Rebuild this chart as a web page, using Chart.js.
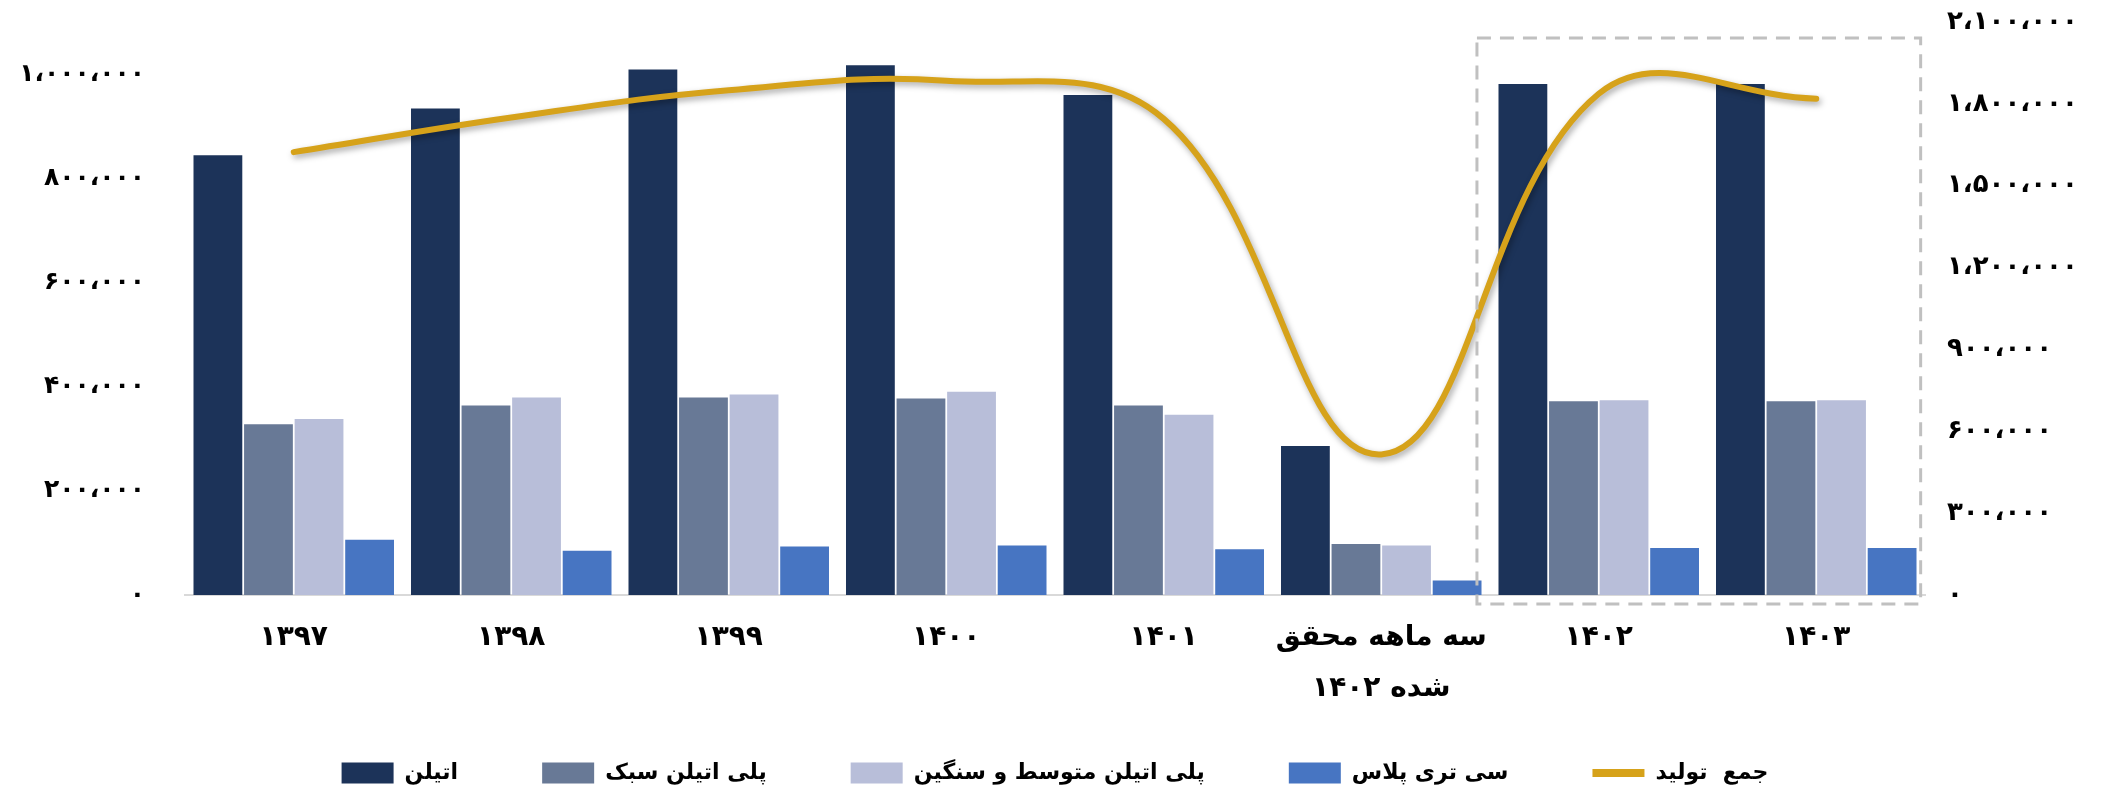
<!DOCTYPE html>
<html lang="fa">
<head>
<meta charset="utf-8">
<script src="https://cdn.jsdelivr.net/npm/chart.js@4.4.1/dist/chart.umd.min.js"></script>
<style>
  html, body { margin: 0; padding: 0; background: #fff; }
  #wrap { width: 2110px; height: 788px; }
</style>
</head>
<body>
<div id="wrap"><canvas id="productionChart" width="2110" height="788"></canvas></div>
<script>
// داده ها
const categories = ['۱۳۹۷', '۱۳۹۸', '۱۳۹۹', '۱۴۰۰', '۱۴۰۱', ['سه ماهه محقق', 'شده ۱۴۰۲'], '۱۴۰۲', '۱۴۰۳'];
const ethylene = [844000, 934000, 1009000, 1017000, 960000, 286000, 981000, 981000];
const lightPE = [328000, 364000, 379000, 377000, 364000, 98000, 372000, 372000];
const medHeavyPE = [338000, 379000, 385000, 390000, 346000, 95000, 374000, 374000];
const c3plus = [106000, 85000, 93000, 95000, 88000, 28000, 90000, 90000];
const totalProduction = [1623000, 1750000, 1850000, 1885000, 1745000, 515000, 1837000, 1819000];
const leftTicks = [0, 200000, 400000, 600000, 800000, 1000000];
const rightTicks = [0, 300000, 600000, 900000, 1200000, 1500000, 1800000, 2100000];
const highlighted = ['۱۴۰۲', '۱۴۰۳'];

const faDigits = '۰۱۲۳۴۵۶۷۸۹';
function toFa(n) {
  return Number(n).toLocaleString('en-US').replace(/,/g, '،').replace(/\d/g, d => faDigits[d]);
}

const fontFamily = "'DejaVu Sans', sans-serif";

// سایه زیر خط جمع تولید
const lineShadow = {
  id: 'lineShadow',
  beforeDatasetDraw(chart, args) {
    if (chart.data.datasets[args.index].type !== 'line') return;
    const ctx = chart.ctx;
    ctx.save();
    ctx.shadowColor = 'rgba(0,0,0,0.35)';
    ctx.shadowBlur = 6;
    ctx.shadowOffsetX = 2;
    ctx.shadowOffsetY = 3;
  },
  afterDatasetDraw(chart, args) {
    if (chart.data.datasets[args.index].type !== 'line') return;
    chart.ctx.restore();
  }
};

// کادر خط چین دور ۱۴۰۲ و ۱۴۰۳
const highlightBox = {
  id: 'highlightBox',
  afterDatasetsDraw(chart) {
    const x = chart.scales.x;
    const area = chart.chartArea;
    const first = categories.indexOf(highlighted[0]);
    const last = categories.indexOf(highlighted[highlighted.length - 1]);
    const step = x.getPixelForValue(1) - x.getPixelForValue(0);
    const left = x.getPixelForValue(first) - step * 0.56;
    const right = x.getPixelForValue(last) + step * 0.48;
    const top = area.top + 16;
    const bottom = area.bottom + 9;
    const ctx = chart.ctx;
    ctx.save();
    ctx.strokeStyle = '#c0c0c0';
    ctx.lineWidth = 3;
    ctx.setLineDash([14, 9]);
    ctx.strokeRect(left, top, right - left, bottom - top);
    ctx.restore();
  }
};

// راهنما: ارتفاع کم تا برچسب دو خطی محور بریده نشود، سپس جابجایی
const legendFix = {
  id: 'legendFix',
  afterInit(chart) {
    const fit = chart.legend.fit;
    chart.legend.fit = function() {
      fit.call(this);
      this.height = 34;
    };
  },
  afterLayout(chart) {
    const lg = chart.legend;
    const pad = lg.options.labels.padding;
    lg.top = lg.top + 8 - pad;
    lg.bottom = chart.height;
  }
};

new Chart(document.getElementById('productionChart'), {
  type: 'bar',
  data: {
    labels: categories,
    datasets: [{
      label: 'اتیلن',
      data: ethylene,
      backgroundColor: '#1c3359',
      yAxisID: 'y',
      order: 1
    }, {
      label: 'پلی اتیلن سبک',
      data: lightPE,
      backgroundColor: '#687996',
      yAxisID: 'y',
      order: 1
    }, {
      label: 'پلی اتیلن متوسط و سنگین',
      data: medHeavyPE,
      backgroundColor: '#b8bed9',
      yAxisID: 'y',
      order: 1
    }, {
      label: 'سی تری پلاس',
      data: c3plus,
      backgroundColor: '#4775c2',
      yAxisID: 'y',
      order: 1
    }, {
      type: 'line',
      label: 'جمع  تولید',
      data: totalProduction,
      borderColor: '#d6a21a',
      backgroundColor: '#d6a21a',
      borderWidth: 6,
      borderCapStyle: 'round',
      tension: 0.4,
      pointRadius: 0,
      yAxisID: 'y1',
      order: 0
    }]
  },
  options: {
    responsive: false,
    animation: false,
    layout: { padding: { top: 22, left: 0, right: 0, bottom: 0 } },
    datasets: {
      bar: { categoryPercentage: 0.93, barPercentage: 0.965 }
    },
    plugins: {
      tooltip: { enabled: false },
      legend: {
        position: 'bottom',
        labels: {
          color: '#000',
          font: { family: fontFamily, size: 22, weight: 'bold' },
          usePointStyle: true,
          pointStyleWidth: 52,
          boxWidth: 52,
          boxHeight: 21,
          padding: 84,
          sort: (a, b) => a.datasetIndex - b.datasetIndex,
          generateLabels(chart) {
            const items = Chart.defaults.plugins.legend.labels.generateLabels(chart);
            items.forEach(item => {
              const ds = chart.data.datasets[item.datasetIndex];
              if (ds.type === 'line') {
                item.pointStyle = 'line';
                item.lineWidth = 8;
                item.strokeStyle = ds.borderColor;
              } else {
                item.pointStyle = 'rect';
                item.lineWidth = 0;
              }
            });
            return items;
          }
        }
      }
    },
    scales: {
      x: {
        grid: { display: false, drawTicks: false },
        border: { color: '#d9d9d9', width: 2 },
        ticks: {
          color: '#000',
          font: { family: fontFamily, size: 28, weight: 'bold', lineHeight: 1.82 },
          padding: 17,
          maxRotation: 0,
          autoSkip: false
        },
        afterFit(scale) { scale.height = 159; }
      },
      y: {
        position: 'left',
        min: 0,
        max: 1100000,
        grid: { display: false, drawTicks: false },
        border: { display: false },
        ticks: {
          color: '#000',
          font: { family: fontFamily, size: 25, weight: 'bold' },
          padding: 40,
          autoSkip: false,
          callback: v => toFa(v)
        },
        afterBuildTicks(scale) {
          scale.ticks = leftTicks.map(v => ({ value: v }));
        },
        afterFit(scale) {
          scale.width = 185;
          scale.paddingTop = 0;
          scale.paddingBottom = 0;
        }
      },
      y1: {
        position: 'right',
        min: 0,
        max: 2100000,
        grid: { display: false, drawTicks: false },
        border: { display: false },
        ticks: {
          color: '#000',
          font: { family: fontFamily, size: 26, weight: 'bold' },
          padding: 22,
          autoSkip: false,
          callback: v => toFa(v)
        },
        afterBuildTicks(scale) {
          scale.ticks = rightTicks.map(v => ({ value: v }));
        },
        afterFit(scale) {
          scale.width = 185;
          scale.paddingTop = 0;
          scale.paddingBottom = 0;
        }
      }
    }
  },
  plugins: [lineShadow, highlightBox, legendFix]
});
</script>
</body>
</html>
